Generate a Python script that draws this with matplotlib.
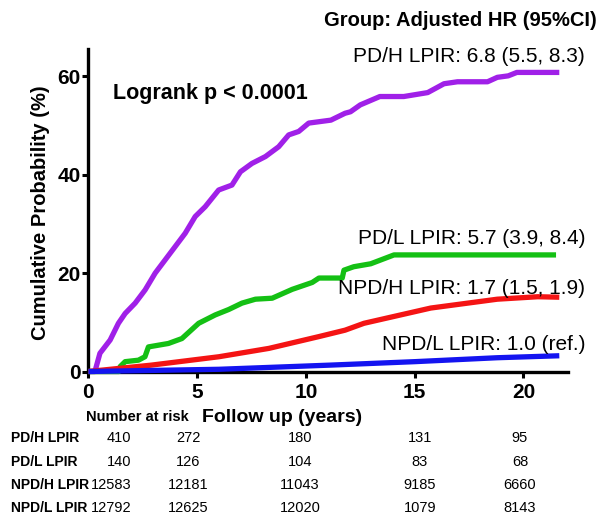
import matplotlib
matplotlib.use("Agg")
import matplotlib.pyplot as plt

plt.rcParams['font.family'] = ['Liberation Sans', 'DejaVu Sans']

# ---- data ----
pdh_t = [0, 0.3, 0.53, 1.0, 1.38, 1.69, 2.15, 2.61, 3.07, 3.53, 3.99, 4.45, 4.91, 5.37, 5.99,
         6.6, 6.99, 7.52, 8.14, 8.75, 9.21, 9.67, 10.13, 11.15, 11.8, 12.05, 12.5, 13.4, 14.5,
         15.6, 16.35, 16.97, 18.35, 18.8, 19.3, 19.7, 21.65]
pdh_v = [0, 0, 3.7, 6.4, 9.8, 11.8, 13.9, 16.6, 20.0, 22.7, 25.4, 28.1, 31.5, 33.5, 36.9,
         37.9, 40.6, 42.3, 43.7, 45.7, 48.1, 48.8, 50.5, 51.1, 52.5, 52.8, 54.2, 55.9, 55.9,
         56.7, 58.5, 58.9, 58.9, 59.8, 60.1, 60.8, 60.8]

pdl_t = [0, 1.4, 1.46, 1.69, 2.3, 2.6, 2.76, 3.68, 4.3, 5.07, 5.83, 6.45, 7.06, 7.68, 8.45,
         9.37, 10.29, 10.6, 11.67, 11.75, 12.2, 12.98, 14.05, 21.5]
pdl_v = [0, 0, 1.0, 2.0, 2.3, 3.0, 5.0, 5.7, 6.7, 9.8, 11.5, 12.6, 13.9, 14.7, 14.9,
         16.7, 18.1, 19.0, 19.0, 20.6, 21.3, 21.9, 23.7, 23.7]

npdh_t = [0, 2.9, 6.0, 8.3, 10.6, 11.8, 12.67, 15.74, 18.8, 20.66, 21.65]
npdh_v = [0, 1.3, 3.0, 4.7, 7.1, 8.4, 9.8, 12.9, 14.7, 15.2, 15.1]

npdl_t = [0, 6.0, 11.13, 15.0, 18.8, 21.65]
npdl_v = [0, 0.45, 1.3, 2.0, 2.8, 3.2]

x_ticks = [0, 5, 10, 15, 20]
y_ticks = [0, 20, 40, 60]

group_labels = ["PD/H LPIR", "PD/L LPIR", "NPD/H LPIR", "NPD/L LPIR"]
hr_labels = ["PD/H LPIR: 6.8 (5.5, 8.3)", "PD/L LPIR: 5.7 (3.9, 8.4)",
             "NPD/H LPIR: 1.7 (1.5, 1.9)", "NPD/L LPIR: 1.0 (ref.)"]
at_risk = [
    ["410", "272", "180", "131", "95"],
    ["140", "126", "104", "83", "68"],
    ["12583", "12181", "11043", "9185", "6660"],
    ["12792", "12625", "12020", "1079", "8143"],
]

# ---- figure ----
W, H = 604, 520
fig = plt.figure(figsize=(W / 100, H / 100), dpi=100)


def P(x, y):
    return (x / W, 1 - y / H)


ax_l, ax_r, ax_t, ax_b = 88.4, 568, 49.3, 371.5
ax = fig.add_axes([ax_l / W, 1 - ax_b / H, (ax_r - ax_l) / W, (ax_b - ax_t) / H])
ax.set_xlim(0, 22.05)
ax.set_ylim(0, 65.5)

colors = ['#A020E8', '#14C014', '#F41414', '#1414F0']
series = [(pdh_t, pdh_v), (pdl_t, pdl_v), (npdh_t, npdh_v), (npdl_t, npdl_v)]
for (t, v), c in zip(series, colors):
    ax.plot(t, v, color=c, lw=3.8, solid_capstyle='butt', solid_joinstyle='round',
            clip_on=False, zorder=5)

for s in ['top', 'right']:
    ax.spines[s].set_visible(False)
for s in ['left', 'bottom']:
    ax.spines[s].set_linewidth(2.4)
ax.set_xticks(x_ticks)
ax.set_yticks(y_ticks)
ax.tick_params(axis='both', direction='out', length=4.5, width=2.2, labelsize=15)
ax.tick_params(axis='y', pad=1)
ax.tick_params(axis='x', pad=4)
for lab in ax.get_xticklabels() + ax.get_yticklabels():
    lab.set_fontweight('bold')

fig.text(*P(41, 213), "Cumulative Probability (%)", rotation=90, fontsize=14.5,
         fontweight='bold', ha='center', va='center')
fig.text(*P(282, 417), "Follow up (years)", fontsize=14, fontweight='bold',
         ha='center', va='center')
fig.text(*P(113, 93), "Logrank p < 0.0001", fontsize=15.5, fontweight='bold',
         ha='left', va='center')
fig.text(*P(597, 20), "Group: Adjusted HR (95%CI)", fontsize=14.5, fontweight='bold',
         ha='right', va='center')

hr_y = [57, 239, 288, 345]
for lab, yy in zip(hr_labels, hr_y):
    fig.text(*P(585, yy), lab, fontsize=15, ha='right', va='center')

# number at risk table
fig.text(*P(137, 417), "Number at risk", fontsize=10.5, fontweight='bold',
         ha='center', va='center')
row_y = [438, 462, 485, 508]
col_x = [131, 188, 300, 420, 520]
for r, (g, vals) in enumerate(zip(group_labels, at_risk)):
    fig.text(*P(11, row_y[r]), g, fontsize=10, fontweight='bold', ha='left', va='center')
    for c, val in enumerate(vals):
        ha = 'right' if c == 0 else 'center'
        fig.text(*P(col_x[c], row_y[r]), val, fontsize=10.5, ha=ha, va='center')

fig.savefig("out.png", dpi=100)
